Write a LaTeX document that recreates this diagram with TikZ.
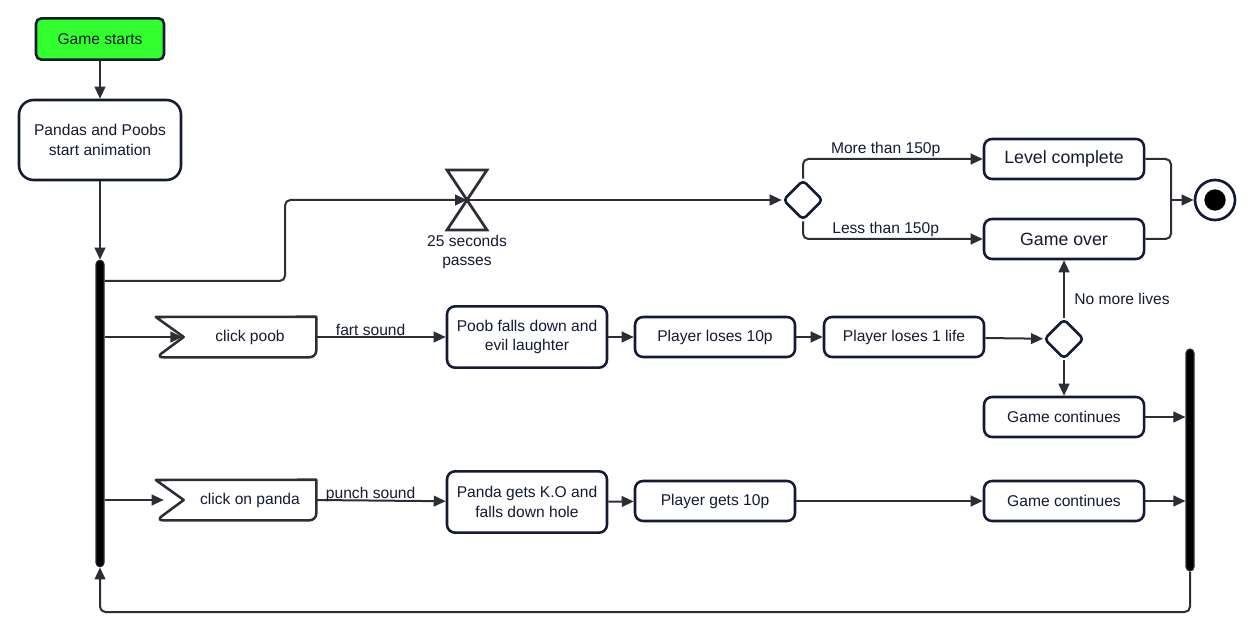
\documentclass[tikz,border=0pt]{standalone}
\usepackage{fontspec}
\setmainfont{Liberation Sans}
\usetikzlibrary{arrows.meta,shapes.geometric,positioning}

\definecolor{ink}{HTML}{141A33}
\definecolor{wire}{HTML}{2B2E35}
\definecolor{startgreen}{HTML}{33FF2E}

\tikzset{act/.style={draw=ink, line width=1.9pt, rounded corners=6pt, fill=white,
                     text=ink, align=center, inner sep=1pt,
                     font=\fontsize{11.7}{14.5}\selectfont,
                     minimum width=120pt, minimum height=30pt}}
\tikzset{bigact/.style={act, font=\fontsize{13.3}{15}\selectfont}}
\tikzset{evt/.style={text=ink, font=\fontsize{11.7}{14}\selectfont, inner sep=0pt,
                     minimum width=99pt, minimum height=30pt}}
\tikzset{evtline/.style={draw=wire, line width=1.9pt, line join=round}}
\tikzset{bar/.style={draw=wire, fill=black, line width=0.8pt, rounded corners=3pt,
                     minimum width=6pt, inner sep=0pt}}
\tikzset{dec/.style={diamond, draw=ink, line width=1.9pt, rounded corners=3pt,
                     fill=white, minimum size=30pt, inner sep=0pt}}
\tikzset{flow/.style={draw=wire, line width=1.5pt, rounded corners=4pt,
                      -{Triangle[length=9pt,width=8pt]}}}
\tikzset{plain/.style={draw=wire, line width=1.5pt, rounded corners=4pt}}
\tikzset{lbl/.style={text=ink, font=\fontsize{11.7}{14}\selectfont, inner sep=1pt}}

\begin{document}
\begin{tikzpicture}[x=0.75pt, y=-0.75pt]

\useasboundingbox (0,0) rectangle (1259,641);

% start and fork
\node[act, fill=startgreen, minimum width=96pt, minimum height=31pt, rounded corners=4pt] (start) at (100,39) {Game starts};
\node[act, minimum width=121.5pt, minimum height=60pt, rounded corners=11pt] (anim) at (100,140) {Pandas and Poobs\\start animation};
\node[bar, minimum height=230pt] (forkL) at (100,413.5) {};
\node[bar, minimum height=166.5pt] (forkR) at (1190,460) {};

% timer branch
\coordinate (timer) at (467,200);
\draw[draw=wire, line width=2pt, line join=miter] (447,170) -- (487,170) -- (447,230) -- (487,230) -- cycle;
\node[lbl, align=center] (timerlbl) at (467,252) {25 seconds\\passes};

\node[dec] (split) at (803,200) {};
\node[bigact] (level) at (1064,159) {Level complete};
\node[bigact] (over) at (1064,239) {Game over};
\coordinate (merge) at (1171,200);
\node[circle, draw=ink, line width=2pt, minimum size=30pt, inner sep=0pt] (stop) at (1215,200) {};
\node[circle, fill=black, minimum size=16pt, inner sep=0pt] (stopdot) at (stop.center) {};

% poob branch
\node[evt] (poob) at (250,337) {click poob};
\draw[evtline] (poob.west) -- ++(-28,-20) -- (poob.north east) [rounded corners=5pt] -- (poob.south east) -- ++(-160,0) [sharp corners] -- cycle;
\node[act, minimum height=46pt] (fall) at (527,337) {Poob falls down and\\evil laughter};
\node[act] (lose10) at (715,337) {Player loses 10p};
\node[act] (life) at (904,337) {Player loses 1 life};
\node[dec] (check) at (1064,339) {};
\node[act] (cont1) at (1064,417) {Game continues};

% panda branch
\node[evt] (panda) at (250,500) {click on panda};
\draw[evtline] (panda.west) -- ++(-28,-20) -- (panda.north east) [rounded corners=5pt] -- (panda.south east) -- ++(-160,0) [sharp corners] -- cycle;
\node[act, minimum height=46pt] (ko) at (527,502) {Panda gets K.O and\\falls down hole};
\node[act] (gain) at (715,501) {Player gets 10p};
\node[act] (cont2) at (1064,501) {Game continues};

% connectors
\draw[flow] (start) -- (anim);
\draw[flow] (anim) -- (forkL);
\draw[flow] (forkL.east |- 0,281) -- (285,281) -- (285,200) -- (timer);
\draw[flow] (timer) -- (split);
\draw[flow] (split.north) |- node[lbl, pos=0.73, above] {More than 150p} (level.west);
\draw[flow] (split.south) |- node[lbl, pos=0.73, above] {Less than 150p} (over.west);
\draw[plain] (level.east) -| (merge);
\draw[plain] (over.east) -| (merge);
\draw[flow] (merge) -- (stop);

\draw[flow] (forkL.east |- poob.west) -- ([xshift=-1pt]poob.west);
\draw[flow] (poob.east) -- node[lbl, pos=0.42, above=-1pt] {fart sound} (fall);
\draw[flow] (fall) -- (lose10);
\draw[flow] (lose10) -- (life);
\draw[flow] (life) -- (check);
\draw[flow] (check.north) -- node[lbl, pos=0.33, right=6pt] {No more lives} (over.south);
\draw[flow] (check.south) -- (cont1);
\draw[flow] (cont1.east) -- (cont1.east -| forkR.west);

\draw[flow] (forkL.east |- panda.west) -- ([xshift=-15pt]panda.west);
\draw[flow] (panda.east) -- node[lbl, pos=0.42, above=-3pt] {punch sound} (ko);
\draw[flow] (ko) -- (gain);
\draw[flow] (gain) -- (cont2);
\draw[flow] (cont2.east) -- (cont2.east -| forkR.west);

\draw[flow] (forkR.south) |- (forkL.south |- 0,612) -- (forkL.south);

\end{tikzpicture}
\end{document}
